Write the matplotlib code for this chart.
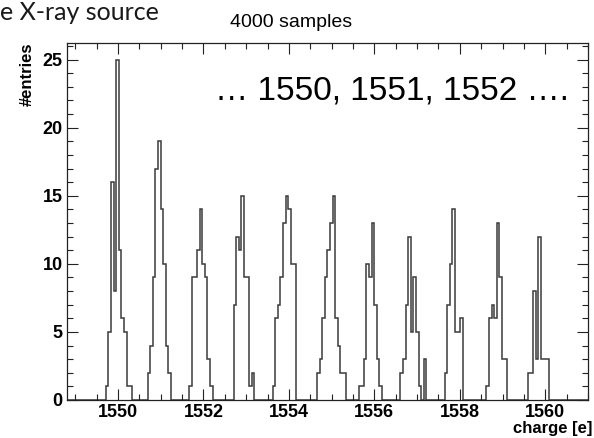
import numpy as np
import matplotlib
matplotlib.use("Agg")
from matplotlib import pyplot as plt
from matplotlib.ticker import MultipleLocator

# Histogram binning (ROOT-like TH1 with 200 bins over the shown range)
x_lo, x_hi, n_bins = 1548.8, 1561.0, 200

# Each peak: index of its first bin and the bin contents
first_bin = [15, 31, 47, 64, 79, 96, 112, 128, 145, 161, 177]
counts_1550 = [1, 5, 16, 8, 25, 11, 6, 5, 1, 1]
counts_1551 = [2, 4, 9, 17, 19, 14, 10, 4, 2]
counts_1552 = [1, 9, 9, 11, 14, 10, 9, 3, 1]
counts_1553 = [7, 12, 11, 15, 9, 9, 1, 2]
counts_1554 = [1, 6, 7, 9, 13, 15, 14, 10, 10]
counts_1555 = [2, 3, 6, 9, 11, 13, 15, 6, 4, 2, 2]
counts_1556 = [1, 1, 3, 10, 9, 13, 7, 3, 1]
counts_1557 = [2, 3, 7, 12, 5, 9, 5, 1, 0, 3]
counts_1558 = [2, 7, 10, 14, 5, 5, 6]
counts_1559 = [1, 6, 7, 6, 13, 9, 3, 3]
counts_1560 = [2, 2, 8, 3, 12, 3, 3, 3]
peaks = [counts_1550, counts_1551, counts_1552, counts_1553, counts_1554, counts_1555,
         counts_1556, counts_1557, counts_1558, counts_1559, counts_1560]

edges = np.linspace(x_lo, x_hi, n_bins + 1)
counts = np.zeros(n_bins)
for start, c in zip(first_bin, peaks):
    counts[start:start + len(c)] = c

fig = plt.figure(figsize=(5.94, 4.38), dpi=100)
ax = fig.add_axes([0.1123, 0.0868, 0.8776, 0.8143])

ax.stairs(counts, edges, color="#3a3a3a", lw=1.1)

ax.set_xlim(x_lo, x_hi)
ax.set_ylim(0, 26.2)
ax.xaxis.set_major_locator(MultipleLocator(2))
ax.xaxis.set_minor_locator(MultipleLocator(0.5))
ax.yaxis.set_major_locator(MultipleLocator(5))
ax.yaxis.set_minor_locator(MultipleLocator(1))
ax.tick_params(which="both", direction="in", top=True, right=True, width=0.8, color="#222222")
ax.tick_params(which="major", length=8, pad=3)
ax.tick_params(which="minor", length=4.5)
for lab in ax.get_xticklabels() + ax.get_yticklabels():
    lab.set_fontfamily("Liberation Sans")
    lab.set_fontweight("bold")
    lab.set_fontsize(13)
for sp in ax.spines.values():
    sp.set_linewidth(0.9)
    sp.set_color("#222222")

# Textos
fig.text(0.0, 1 - 20.5 / 438, "e X-ray source", family=["Lato", "DejaVu Sans"],
         fontsize=18, color="#1a1a1a", va="baseline", ha="left")
fig.text(291 / 594, 1 - 27 / 438, "4000 samples", family="Liberation Sans", fontsize=14,
         va="baseline", ha="center")
fig.text(215 / 594, 1 - 100 / 438, "\u2026 1550, 1551, 1552 \u2026.", family=["Liberation Sans", "DejaVu Sans"],
         fontsize=24, va="baseline", ha="left")
fig.text(27 / 594, 1 - 43 / 438, "#entries", family="Liberation Sans", fontweight="bold", fontsize=12,
         rotation=90, ha="center", va="top")
fig.text(592 / 594, 1 - 433 / 438, "charge [e]", family="Liberation Sans", fontweight="bold", fontsize=12,
         ha="right", va="baseline")

fig.savefig("out.png", dpi=100)
